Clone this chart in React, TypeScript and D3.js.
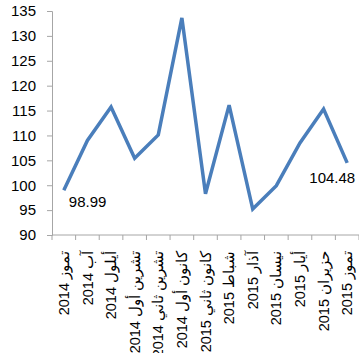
import { useEffect, useRef } from "react";
import * as d3 from "d3";

const months = [
  "تموز", "آب", "أيلول", "تشرين أول", "تشرين ثاني", "كانون أول",
  "كانون ثاني", "شباط", "آذار", "نيسان", "أيار", "حزيران", "تموز",
];
const years = [2014, 2014, 2014, 2014, 2014, 2014, 2015, 2015, 2015, 2015, 2015, 2015, 2015];
const values = [98.99, 109.0, 115.7, 105.4, 110.1, 133.6, 98.3, 116.1, 95.2, 99.9, 108.5, 115.3, 104.48];
const yTicks = [90, 95, 100, 105, 110, 115, 120, 125, 130, 135];

const W = 359;
const H = 353;

export default function App() {
  const ref = useRef<SVGSVGElement | null>(null);

  useEffect(() => {
    if (!ref.current) return;
    const svg = d3.select(ref.current);
    svg.selectAll("*").remove();

    const left = 52, right = 359, top = 11, bottom = 235;
    const cats = months.map((m, i) => `${years[i]} ${m}`);
    const x = d3.scaleBand<number>().domain(d3.range(cats.length)).range([left, right]);
    const y = d3.scaleLinear().domain([90, 135]).range([bottom, top]);

    const axisColor = "#a6a6a6";
    const font = "'Liberation Sans', Arial, sans-serif";

    // y axis
    const gy = svg.append("g").attr("transform", `translate(${left},0)`)
      .call(d3.axisLeft(y).tickValues(yTicks).tickSize(5).tickPadding(11));
    gy.select(".domain").attr("stroke", axisColor);
    gy.selectAll(".tick line").attr("stroke", axisColor);
    gy.selectAll(".tick text").attr("font-family", font).attr("font-size", 15).attr("fill", "#000");

    // x axis
    svg.append("line").attr("x1", left).attr("x2", right).attr("y1", bottom).attr("y2", bottom)
      .attr("stroke", axisColor);
    const bounds = d3.range(cats.length + 1).map((i) => left + i * x.bandwidth());
    svg.append("g").selectAll("line").data(bounds).join("line")
      .attr("x1", (d) => d).attr("x2", (d) => d)
      .attr("y1", bottom).attr("y2", bottom + 5)
      .attr("stroke", axisColor);

    svg.append("g").selectAll("text").data(cats).join("text")
      .attr("transform", (_d, i) => `translate(${x(i)! + x.bandwidth() / 2},${bottom + 16}) rotate(-90)`)
      .attr("text-anchor", "end")
      .attr("dy", "0.35em")
      .attr("font-family", font)
      .attr("font-size", 14.5)
      .attr("fill", "#000")
      .text((d) => d);

    const cx = (i: number) => x(i)! + x.bandwidth() / 2;
    const line = d3.line<number>().x((_d, i) => cx(i)).y((d) => y(d));
    svg.append("path").datum(values)
      .attr("d", line)
      .attr("fill", "none")
      .attr("stroke", "#4a7ebb")
      .attr("stroke-width", 3.5)
      .attr("stroke-linejoin", "miter");

    const last = values.length - 1;
    const labels = [
      { i: 0, v: values[0], text: "98.99", dx: 5, dy: 17, anchor: "start" },
      { i: last, v: values[last], text: "104.48", dx: 8, dy: 20, anchor: "end" },
    ];
    svg.append("g").selectAll("text").data(labels).join("text")
      .attr("x", (d) => cx(d.i) + d.dx)
      .attr("y", (d) => y(d.v) + d.dy)
      .attr("text-anchor", (d) => d.anchor)
      .attr("font-family", font)
      .attr("font-size", 15)
      .attr("fill", "#000")
      .text((d) => d.text);
  }, []);

  return (
    <svg
      ref={ref}
      width={W}
      height={H}
      style={{ position: "absolute", left: 0, top: 0, background: "#fff" }}
    />
  );
}
